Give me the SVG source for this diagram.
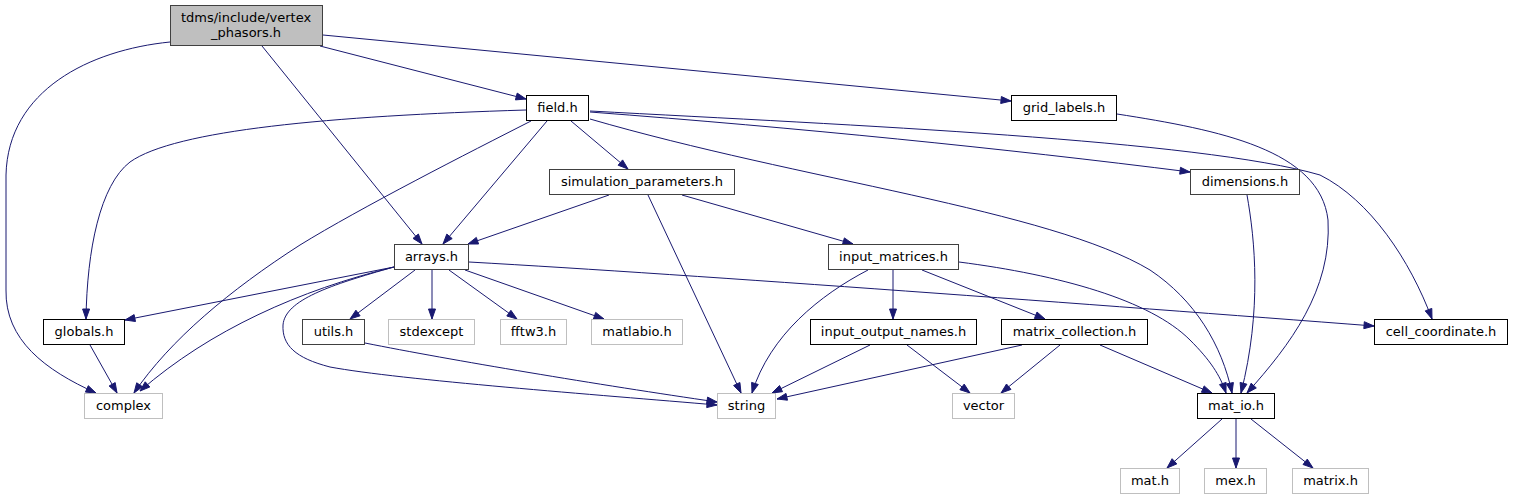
<svg xmlns="http://www.w3.org/2000/svg" width="1513" height="500" viewBox="0 0 1513 500">
<style>
text{font-family:"DejaVu Sans","Liberation Sans",sans-serif;font-size:13px;fill:#000;text-anchor:middle}
.n rect{fill:#fff;stroke:#000;stroke-width:1}
.n.g rect{stroke:#404040}
.n.x rect{stroke:#bfbfbf}
.n.r rect{fill:#bfbfbf;stroke:#404040}
.ln{fill:none;stroke:#191970;stroke-width:1}
.hd{fill:#191970;stroke:#191970;stroke-width:1}
</style>
<rect width="1513" height="500" fill="#fff"/>
<g id="edges">
<g><path class="ln" d="M170,42 C90,50 8,90 6,175 L6,290 C5,340 45,370 96,393"/><path class="hd" fill="#191970" d="M85.4,392.1 L96,393 L88.3,385.7 Z"/></g>
<g><path class="ln" d="M262,46 L422,244"/><path class="hd" fill="#191970" d="M413,238.4 L422,244 L418.4,234 Z"/></g>
<g><path class="ln" d="M320,46 L526,99"/><path class="hd" fill="#191970" d="M515.4,99.9 L526,99 L517.2,93.1 Z"/></g>
<g><path class="ln" d="M323,35 L1011,101"/><path class="hd" fill="#191970" d="M1000.7,103.5 L1011,101 L1001.4,96.5 Z"/></g>
<g><path class="ln" d="M526,110 C330,116 175,130 130,162 C100,185 87,250 86,319"/><path class="hd" fill="#191970" d="M82.6,309 L86,319 L89.6,309 Z"/></g>
<g><path class="ln" d="M531,121 C470,152 360,208 300,245 C230,290 170,340 134,393"/><path class="hd" fill="#191970" d="M136.7,382.8 L134,393 L142.5,386.7 Z"/></g>
<g><path class="ln" d="M547,121 L443,244"/><path class="hd" fill="#191970" d="M446.8,234.1 L443,244 L452.2,238.6 Z"/></g>
<g><path class="ln" d="M571,121 L628,169"/><path class="hd" fill="#191970" d="M618.1,165.2 L628,169 L622.6,159.9 Z"/></g>
<g><path class="ln" d="M590,119 C800,180 1050,210 1150,270 C1195,300 1222,345 1232,393"/><path class="hd" fill="#191970" d="M1226.5,383.9 L1232,393 L1233.4,382.5 Z"/></g>
<g><path class="ln" d="M590,112 C800,128 1000,148 1190,172"/><path class="hd" fill="#191970" d="M1179.7,174.2 L1190,172 L1180.5,167.3 Z"/></g>
<g><path class="ln" d="M590,111 C850,125 1200,140 1320,175 C1370,200 1410,260 1432,319"/><path class="hd" fill="#191970" d="M1425.2,310.9 L1432,319 L1431.8,308.4 Z"/></g>
<g><path class="ln" d="M1117,114 C1220,130 1320,150 1328,220 C1332,290 1290,345 1247,393"/><path class="hd" fill="#191970" d="M1251.1,383.2 L1247,393 L1256.3,387.9 Z"/></g>
<g><path class="ln" d="M1247,195 C1255,240 1262,310 1241,393"/><path class="hd" fill="#191970" d="M1240.1,382.4 L1241,393 L1246.9,384.2 Z"/></g>
<g><path class="ln" d="M609,195 L468,244"/><path class="hd" fill="#191970" d="M476.3,237.4 L468,244 L478.6,244 Z"/></g>
<g><path class="ln" d="M648,195 L741,393"/><path class="hd" fill="#191970" d="M733.6,385.5 L741,393 L739.9,382.5 Z"/></g>
<g><path class="ln" d="M682,195 L853,244"/><path class="hd" fill="#191970" d="M842.4,244.6 L853,244 L844.4,237.9 Z"/></g>
<g><path class="ln" d="M394,267 L125,320"/><path class="hd" fill="#191970" d="M134.1,314.6 L125,320 L135.5,321.5 Z"/></g>
<g><path class="ln" d="M394,267 C300,290 210,330 140,391"/><path class="hd" fill="#191970" d="M145.2,381.8 L140,391 L149.8,387 Z"/></g>
<g><path class="ln" d="M394,267 C330,285 285,300 283,325 C282,345 295,358 330,367 C400,380 600,395 717,405"/><path class="hd" fill="#191970" d="M706.7,407.6 L717,405 L707.3,400.6 Z"/></g>
<g><path class="ln" d="M415,270 L350,319"/><path class="hd" fill="#191970" d="M355.9,310.2 L350,319 L360.1,315.8 Z"/></g>
<g><path class="ln" d="M432,270 L432,319"/><path class="hd" fill="#191970" d="M428.5,309 L432,319 L435.5,309 Z"/></g>
<g><path class="ln" d="M449,270 L517,319"/><path class="hd" fill="#191970" d="M506.8,316 L517,319 L510.9,310.3 Z"/></g>
<g><path class="ln" d="M465,270 L604,319"/><path class="hd" fill="#191970" d="M593.4,319 L604,319 L595.7,312.4 Z"/></g>
<g><path class="ln" d="M469,262 C700,275 1100,305 1374,326"/><path class="hd" fill="#191970" d="M1363.8,328.7 L1374,326 L1364.3,321.7 Z"/></g>
<g><path class="ln" d="M868,270 C820,295 770,335 752,393"/><path class="hd" fill="#191970" d="M751.6,382.4 L752,393 L758.3,384.5 Z"/></g>
<g><path class="ln" d="M893,270 L893,319"/><path class="hd" fill="#191970" d="M889.5,309 L893,319 L896.5,309 Z"/></g>
<g><path class="ln" d="M922,270 L1045,319"/><path class="hd" fill="#191970" d="M1034.4,318.5 L1045,319 L1037,312 Z"/></g>
<g><path class="ln" d="M959,262 C1060,275 1150,300 1190,340 C1210,360 1220,375 1226,393"/><path class="hd" fill="#191970" d="M1219.5,384.6 L1226,393 L1226.1,382.4 Z"/></g>
<g><path class="ln" d="M90,345 L117,393"/><path class="hd" fill="#191970" d="M109.1,386 L117,393 L115.2,382.6 Z"/></g>
<g><path class="ln" d="M365,343 C450,360 600,385 717,402"/><path class="hd" fill="#191970" d="M706.6,404 L717,402 L707.6,397.1 Z"/></g>
<g><path class="ln" d="M870,345 L772,393"/><path class="hd" fill="#191970" d="M779.5,385.5 L772,393 L782.5,391.7 Z"/></g>
<g><path class="ln" d="M907,345 L970,393"/><path class="hd" fill="#191970" d="M959.9,389.7 L970,393 L964.2,384.1 Z"/></g>
<g><path class="ln" d="M1022,345 L777,399"/><path class="hd" fill="#191970" d="M786,393.4 L777,399 L787.5,400.2 Z"/></g>
<g><path class="ln" d="M1060,345 L1001,393"/><path class="hd" fill="#191970" d="M1006.5,384 L1001,393 L1011,389.4 Z"/></g>
<g><path class="ln" d="M1100,345 L1212,393"/><path class="hd" fill="#191970" d="M1201.4,392.3 L1212,393 L1204.2,385.9 Z"/></g>
<g><path class="ln" d="M1222,419 L1167,468"/><path class="hd" fill="#191970" d="M1172.1,458.7 L1167,468 L1176.8,463.9 Z"/></g>
<g><path class="ln" d="M1236,419 L1236,468"/><path class="hd" fill="#191970" d="M1232.5,458 L1236,468 L1239.5,458 Z"/></g>
<g><path class="ln" d="M1251,419 L1313,468"/><path class="hd" fill="#191970" d="M1303,464.5 L1313,468 L1307.3,459.1 Z"/></g>
</g>
<g id="vertex_phasors" class="n r"><rect x="170.5" y="5.5" width="152" height="40"/><text x="246" y="22">tdms/include/vertex</text><text x="246" y="37">_phasors.h</text></g>
<g id="field" class="n"><rect x="526.5" y="95.5" width="62" height="25"/><text x="557.5" y="112">field.h</text></g>
<g id="grid_labels" class="n"><rect x="1011.5" y="95.5" width="105" height="25"/><text x="1064" y="112">grid_labels.h</text></g>
<g id="simulation_parameters" class="n g"><rect x="549.5" y="169.5" width="185" height="25"/><text x="642" y="186">simulation_parameters.h</text></g>
<g id="dimensions" class="n g"><rect x="1190.5" y="169.5" width="109" height="25"/><text x="1245" y="186">dimensions.h</text></g>
<g id="arrays" class="n g"><rect x="394.5" y="244.5" width="74" height="25"/><text x="431.5" y="261">arrays.h</text></g>
<g id="input_matrices" class="n g"><rect x="828.5" y="244.5" width="130" height="25"/><text x="893.5" y="261">input_matrices.h</text></g>
<g id="globals" class="n"><rect x="43.5" y="319.5" width="81" height="25"/><text x="84" y="336">globals.h</text></g>
<g id="utils" class="n g"><rect x="302.5" y="319.5" width="62" height="25"/><text x="333.5" y="336">utils.h</text></g>
<g id="stdexcept" class="n x"><rect x="388.5" y="319.5" width="86" height="25"/><text x="431.5" y="336">stdexcept</text></g>
<g id="fftw3" class="n x"><rect x="500.5" y="319.5" width="66" height="25"/><text x="533.5" y="336">fftw3.h</text></g>
<g id="matlabio" class="n x"><rect x="591.5" y="319.5" width="91" height="25"/><text x="637" y="336">matlabio.h</text></g>
<g id="input_output_names" class="n"><rect x="810.5" y="319.5" width="166" height="25"/><text x="893.5" y="336">input_output_names.h</text></g>
<g id="matrix_collection" class="n"><rect x="1001.5" y="319.5" width="146" height="25"/><text x="1074.5" y="336">matrix_collection.h</text></g>
<g id="cell_coordinate" class="n"><rect x="1374.5" y="319.5" width="133" height="25"/><text x="1441" y="336">cell_coordinate.h</text></g>
<g id="complex" class="n x"><rect x="84.5" y="393.5" width="78" height="25"/><text x="123.5" y="410">complex</text></g>
<g id="string" class="n x"><rect x="717.5" y="393.5" width="58" height="25"/><text x="746.5" y="410">string</text></g>
<g id="vector" class="n x"><rect x="952.5" y="393.5" width="62" height="25"/><text x="983.5" y="410">vector</text></g>
<g id="mat_io" class="n"><rect x="1197.5" y="393.5" width="77" height="25"/><text x="1236" y="410">mat_io.h</text></g>
<g id="mat" class="n x"><rect x="1120.5" y="468.5" width="59" height="25"/><text x="1150" y="485">mat.h</text></g>
<g id="mex" class="n x"><rect x="1204.5" y="468.5" width="62" height="25"/><text x="1235.5" y="485">mex.h</text></g>
<g id="matrix" class="n x"><rect x="1292.5" y="468.5" width="76" height="25"/><text x="1330.5" y="485">matrix.h</text></g>
</svg>
